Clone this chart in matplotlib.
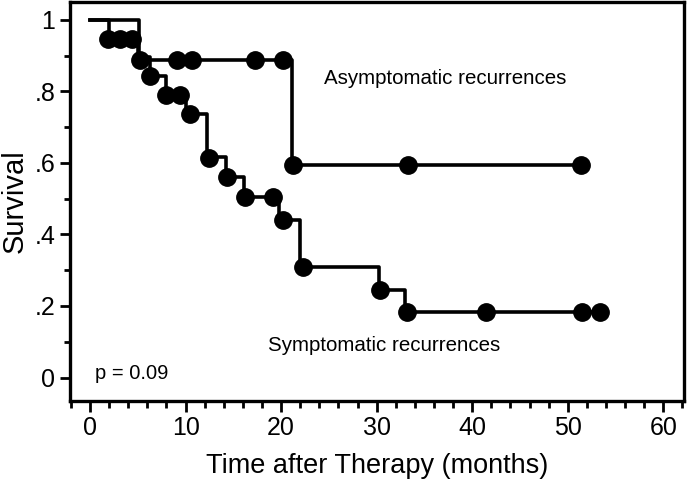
import matplotlib
matplotlib.use("Agg")
import matplotlib.pyplot as plt
from matplotlib.ticker import MultipleLocator, FixedLocator

plt.rcParams['font.family'] = ['Liberation Sans', 'DejaVu Sans']

# Curva sintomática: tiempos de caída y supervivencia después de cada paso
sym_step_t = [0, 2.0, 5.0, 6.3, 8.0, 10.0, 12.2, 14.2, 16.1, 19.8, 22.0, 30.2, 33.0, 53.4]
sym_step_s = [1.0, 0.947, 0.895, 0.842, 0.789, 0.737, 0.616, 0.56, 0.504, 0.44, 0.31, 0.246, 0.184, 0.184]
sym_mark_t = [1.9, 3.1, 4.4, 5.2, 6.3, 8.0, 9.4, 10.5, 12.4, 14.3, 16.2, 19.2, 20.2, 22.3,
              30.3, 33.2, 41.4, 51.5, 53.4]
sym_mark_s = [0.947, 0.947, 0.947, 0.889, 0.842, 0.789, 0.789, 0.737, 0.614, 0.56, 0.504,
              0.504, 0.44, 0.31, 0.246, 0.184, 0.184, 0.184, 0.184]

# Curva asintomática
asym_step_t = [0, 5.1, 21.1, 51.4]
asym_step_s = [1.0, 0.889, 0.593, 0.593]
asym_mark_t = [9.1, 10.7, 17.3, 20.2, 21.2, 33.3, 51.4]
asym_mark_s = [0.889, 0.889, 0.889, 0.889, 0.593, 0.593, 0.593]

y_ticks = [0, 0.2, 0.4, 0.6, 0.8, 1.0]
y_tick_labels = ['0', '.2', '.4', '.6', '.8', '1']

fig = plt.figure(figsize=(6.88, 4.80), dpi=100)
ax = fig.add_axes([0.1017, 0.165, 0.893, 0.831])

lw = 2.6
ax.plot(sym_step_t, sym_step_s, drawstyle='steps-post', color='black', lw=lw)
ax.plot(asym_step_t, asym_step_s, drawstyle='steps-post', color='black', lw=lw)
ax.plot(sym_mark_t, sym_mark_s, 'o', color='black', ms=12.5)
ax.plot(asym_mark_t, asym_mark_s, 'o', color='black', ms=12.5)

ax.text(24.5, 0.82, 'Asymptomatic recurrences', fontsize=14.8)
ax.text(18.6, 0.075, 'Symptomatic recurrences', fontsize=14.8)
ax.text(0.5, -0.005, 'p = 0.09', fontsize=14.5)

ax.set_xlim(-2.1, 62.2)
ax.set_ylim(-0.065, 1.05)
ax.xaxis.set_major_locator(FixedLocator([0, 10, 20, 30, 40, 50, 60]))
ax.xaxis.set_minor_locator(MultipleLocator(2))
ax.yaxis.set_major_locator(FixedLocator(y_ticks))
ax.yaxis.set_minor_locator(FixedLocator([0.1, 0.3, 0.5, 0.7, 0.9]))
ax.set_yticklabels(y_tick_labels)

ax.tick_params(which='major', width=2, labelsize=18, pad=3)
ax.tick_params(axis='x', which='major', length=8)
ax.tick_params(axis='x', which='minor', length=5, width=2)
ax.tick_params(axis='y', which='major', length=7.5)
ax.tick_params(axis='y', which='minor', length=4, width=2)
for s in ax.spines.values():
    s.set_linewidth(2.4)

ax.set_xlabel('Time after Therapy (months)', fontsize=19.5, labelpad=9)
ax.set_ylabel('Survival', fontsize=21, labelpad=4)

plt.savefig('out.png', dpi=100)
